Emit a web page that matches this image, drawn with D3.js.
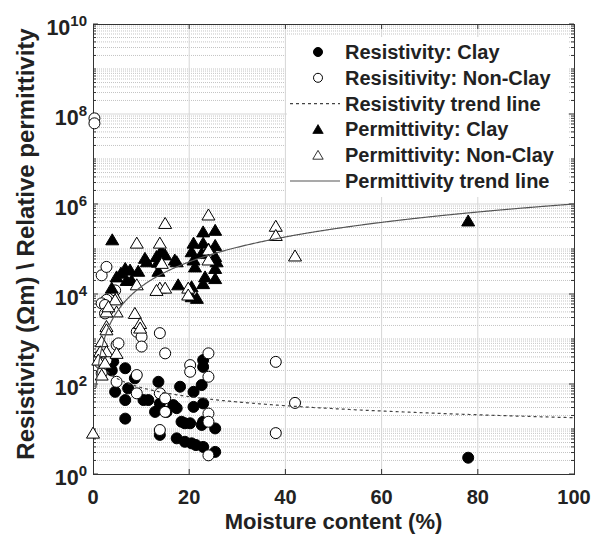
<!DOCTYPE html>
<html>
<head>
<meta charset="utf-8">
<title>Resistivity / permittivity vs moisture</title>
<style>
  body { margin: 0; background: #fff; }
  text { font-family: "Liberation Sans", Arial, sans-serif; font-weight: bold; fill: #222; }
</style>
</head>
<body>
<script src="https://cdn.jsdelivr.net/npm/d3@7/dist/d3.min.js"></script>
<script>
// ---- data: [moisture %, value] ----
const resClay = [
  [4.2, 315], [3.9, 200], [4.6, 67], [6.7, 224], [7.3, 80], [6.7, 44], [6.7, 17],
  [8.7, 134], [10.5, 44], [11.5, 44], [13.6, 112], [12.9, 24], [13.9, 37], [13.9, 7.4],
  [16.7, 34], [15.3, 24], [18.1, 87], [18.4, 14.5], [19.1, 13.4], [17.4, 6.2], [19.1, 5.2],
  [20.5, 4.8], [21.4, 4.4], [20.9, 31], [20.9, 67], [22.6, 95], [22.9, 340], [22.9, 240],
  [22.9, 37], [22.6, 12.3], [22.9, 4.0], [25.4, 10.3], [25.4, 3.1], [20.2, 13.4],
  [17.4, 29], [22.9, 14.5], [78, 2.3]
];
const resNonClay = [
  [0.3, 8e7], [0.3, 6.2e7], [42, 38], [38, 310], [38, 8.1], [1.8, 2.6e4], [2.8, 4e4],
  [2.8, 7400], [1.8, 6200], [4.6, 1.2e4], [2.5, 5700], [2.5, 3700], [9.1, 1450], [10.1, 1120],
  [10.1, 680], [13.9, 1350], [15, 480], [4.9, 740], [2.8, 340], [4.9, 112], [9.1, 158],
  [9.1, 62], [13.9, 62], [15, 48], [15, 24], [13.9, 9.5], [20.2, 263], [20.2, 187],
  [24, 480], [24, 145], [24, 22], [24, 14.5], [24, 2.6], [1.5, 290], [5.3, 800], [1.8, 174]
];
const permClay = [
  [78, 4.2e5], [4.0, 1.6e5], [6.7, 3.7e4], [7.7, 3.4e4], [9.4, 3.2e4], [4.9, 2.4e4],
  [3.9, 1.35e4], [8.0, 2e4], [11.2, 5.2e4], [13.2, 6.8e4], [13.9, 8e4], [15, 7.4e4],
  [17.4, 5.2e4], [13.6, 3.2e4], [17.7, 1.6e4], [22.9, 2.4e5], [25.4, 2.6e5], [20.9, 1.35e5],
  [22.9, 1.35e5], [25.4, 1.2e5], [20.5, 8.7e4], [22.6, 8e4], [25.4, 6.8e4], [20.9, 5.7e4],
  [21.2, 4e4], [25.7, 5.2e4], [25.4, 3.7e4], [23.3, 2.4e4], [25.4, 2.2e4], [22.9, 1.7e4],
  [20.5, 1.45e4], [20.5, 8.7e3], [17, 5.7e4], [14.3, 8.7e4], [13.5, 5.1e4], [5.8, 2.9e4],
  [10.8, 6.2e4], [21.6, 8e3], [24, 1e5], [7, 2e4]
];
const permNonClay = [
  [0, 8.1], [38, 3.2e5], [38, 2e5], [42, 7e4], [24, 5.7e5], [9.1, 1.35e5], [13.9, 1.35e5],
  [15, 3.7e5], [24, 9.5e4], [24, 5.7e4], [14.3, 4.8e4], [13.9, 1.35e4], [15, 1.35e4],
  [19.8, 1.35e4], [19.8, 9.5e3], [4.9, 8e3], [4.9, 4e3], [2.8, 4e3], [2.8, 1.9e3],
  [2.8, 1.6e3], [1.8, 870], [2.8, 520], [1.5, 520], [1.1, 340], [2.5, 290], [8.7, 3.7e3],
  [9.8, 2.2e3], [9.8, 1.75e3], [13.2, 1.2e4], [4.9, 480], [1.8, 158], [9.1, 1.6e4],
  [4.6, 7.4e3], [3.2, 5.2e3]
];
// power-law trend lines y = a * x^b
const resTrend = { a: 390, b: -0.67 };
const permTrend = { a: 209, b: 1.84 };
const trendX = d3.range(0.6, 100.01, 0.2);

const xTicks = [0, 20, 40, 60, 80, 100];
const yTicks = [1, 1e2, 1e4, 1e6, 1e8, 1e10];
const legendItems = [
  { label: "Resistivity: Clay", type: "circle", fill: "#000" },
  { label: "Resisitivity: Non-Clay", type: "circle", fill: "#fff" },
  { label: "Resistivity trend line", type: "dash" },
  { label: "Permittivity: Clay", type: "tri", fill: "#000" },
  { label: "Permittivity: Non-Clay", type: "tri", fill: "#fff" },
  { label: "Permittivity trend line", type: "line" }
];

const width = 594, height = 540;
const m = { left: 93, right: 20, top: 24, bottom: 66 };

const svg = d3.select("body").append("svg")
  .attr("width", width).attr("height", height);

const x = d3.scaleLinear().domain([0, 100]).range([m.left, width - m.right]);
const y = d3.scaleLog().domain([1, 1e10]).range([height - m.bottom, m.top]);

const x0 = x.range()[0], x1 = x.range()[1], y0 = y.range()[0], y1 = y.range()[1];

// minor grid (log)
const minor = [];
for (let e = 0; e < 10; e++) for (let k = 2; k <= 9; k++) minor.push(k * Math.pow(10, e));
const odd = [1e1, 1e3, 1e5, 1e7, 1e9];

svg.append("g").selectAll("line").data(minor.concat(odd)).join("line")
  .attr("x1", x0).attr("x2", x1)
  .attr("y1", d => y(d)).attr("y2", d => y(d))
  .attr("stroke", "#c4c4c4").attr("stroke-width", 1)
  .attr("stroke-dasharray", "1,1");

// major grid
svg.append("g").selectAll("line").data(yTicks.slice(1, -1)).join("line")
  .attr("x1", x0).attr("x2", x1)
  .attr("y1", d => y(d)).attr("y2", d => y(d))
  .attr("stroke", "#d6d6d6");
svg.append("g").selectAll("line").data(xTicks.slice(1, -1)).join("line")
  .attr("x1", d => x(d)).attr("x2", d => x(d))
  .attr("y1", y0).attr("y2", y1)
  .attr("stroke", "#d6d6d6");

// ticks inside, all four sides
const tk = svg.append("g").attr("stroke", "#333").attr("stroke-width", 1);
xTicks.slice(1, -1).forEach(v => {
  tk.append("line").attr("x1", x(v)).attr("x2", x(v)).attr("y1", y0).attr("y2", y0 - 5);
  tk.append("line").attr("x1", x(v)).attr("x2", x(v)).attr("y1", y1).attr("y2", y1 + 5);
});
minor.concat(odd).concat(yTicks).forEach(v => {
  const len = yTicks.includes(v) ? 5 : 3;
  tk.append("line").attr("x1", x0).attr("x2", x0 + len).attr("y1", y(v)).attr("y2", y(v));
  tk.append("line").attr("x1", x1).attr("x2", x1 - len).attr("y1", y(v)).attr("y2", y(v));
});

// box
svg.append("rect").attr("x", x0 + 0.5).attr("y", y1 + 0.5)
  .attr("width", x1 - x0).attr("height", y0 - y1)
  .attr("fill", "none").attr("stroke", "#333");

// tick labels
svg.append("g").selectAll("text").data(xTicks).join("text")
  .attr("x", d => x(d)).attr("y", y0 + 30)
  .attr("text-anchor", "middle").attr("font-size", 20)
  .text(d => d);

const yl = svg.append("g").selectAll("text").data(yTicks).join("text")
  .attr("x", x0 - 6).attr("y", d => y(d) + 11)
  .attr("text-anchor", "end").attr("font-size", 21.5);
yl.append("tspan").text("10");
yl.append("tspan").attr("dy", -9).attr("font-size", 15).text(d => Math.round(Math.log10(d)));

// axis labels
svg.append("text").attr("x", (x0 + x1) / 2).attr("y", 529)
  .attr("text-anchor", "middle").attr("font-size", 22)
  .text("Moisture content (%)");
svg.append("text")
  .attr("transform", `translate(34,${(y0 + y1) / 2 - 5}) rotate(-90)`)
  .attr("text-anchor", "middle").attr("font-size", 24)
  .text("Resistivity (\u03A9m) \\ Relative permittivity");

// markers
const triPath = "M0,-6L6.5,5L-6.5,5Z";
const plot = svg.append("g");

function circles(data, fill) {
  plot.append("g").selectAll("circle").data(data).join("circle")
    .attr("cx", d => x(d[0])).attr("cy", d => y(d[1])).attr("r", 5.5)
    .attr("fill", fill).attr("stroke", "#000").attr("stroke-width", 1);
}
function triangles(data, fill) {
  plot.append("g").selectAll("path").data(data).join("path")
    .attr("transform", d => `translate(${x(d[0])},${y(d[1])})`)
    .attr("d", triPath)
    .attr("fill", fill).attr("stroke", "#000").attr("stroke-width", 1);
}
const line = d3.line().x(d => x(d[0])).y(d => y(d[1]));

circles(resClay, "#000");
circles(resNonClay, "#fff");
plot.append("path")
  .datum(trendX.map(v => [v, resTrend.a * Math.pow(v, resTrend.b)]))
  .attr("d", line).attr("fill", "none")
  .attr("stroke", "#444").attr("stroke-width", 1.2).attr("stroke-dasharray", "3,3");
triangles(permClay, "#000");
triangles(permNonClay, "#fff");
plot.append("path")
  .datum(trendX.map(v => [v, permTrend.a * Math.pow(v, permTrend.b)]))
  .attr("d", line).attr("fill", "none")
  .attr("stroke", "#555").attr("stroke-width", 1.2);

// legend
const lg = svg.append("g").attr("transform", "translate(287,37)");
lg.append("rect").attr("width", 281).attr("height", 160).attr("fill", "#fff");
const row = lg.selectAll("g").data(legendItems).join("g")
  .attr("transform", (d, i) => `translate(0,${15 + i * 25.8})`);
row.append("text").attr("x", 58).attr("y", 7).attr("font-size", 20).text(d => d.label);
row.filter(d => d.type === "circle").append("circle")
  .attr("cx", 31).attr("r", 4.5).attr("fill", d => d.fill).attr("stroke", "#000");
row.filter(d => d.type === "tri").append("path")
  .attr("transform", "translate(31,0) scale(0.8)").attr("d", triPath)
  .attr("fill", d => d.fill).attr("stroke", "#000");
row.filter(d => d.type !== "circle" && d.type !== "tri").append("line")
  .attr("x1", 3).attr("x2", 53)
  .attr("stroke", d => d.type === "dash" ? "#444" : "#555").attr("stroke-width", 1.2)
  .attr("stroke-dasharray", d => d.type === "dash" ? "3,3" : null);
</script>
</body>
</html>
